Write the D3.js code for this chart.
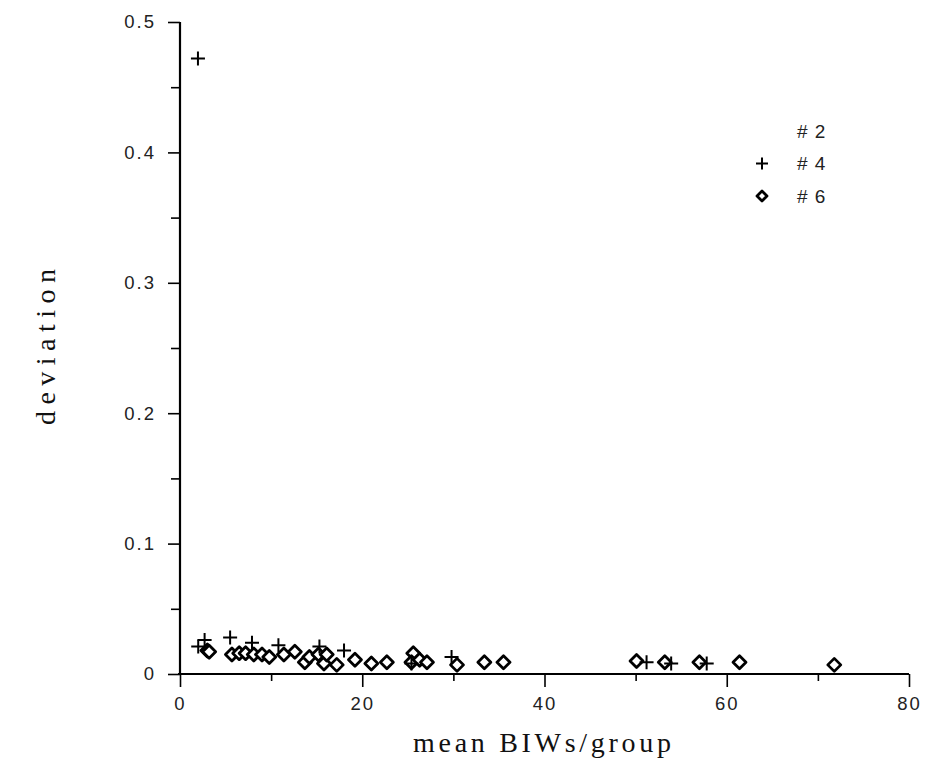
<!DOCTYPE html>
<html>
<head>
<meta charset="utf-8">
<script src="https://cdn.jsdelivr.net/npm/d3@7"></script>
<style>
  html, body { margin: 0; padding: 0; background: #fff; }
  svg { display: block; }
</style>
</head>
<body>
<svg id="chart" width="930" height="784"></svg>
<script>
// ---- data ----
const xTicks = [0, 20, 40, 60, 80];
const xMinorTicks = [10, 30, 50, 70];
const yTicks = [0, 0.1, 0.2, 0.3, 0.4, 0.5];
const yMinorTicks = [0.05, 0.15, 0.25, 0.35, 0.45];
const legendLabels = ["# 2", "# 4", "# 6"];

// series #2 : no visible marks
const s2x = [];
const s2y = [];
// series #4 (plus markers)
const s4x = [1.97, 2.0, 2.7, 5.5, 7.9, 10.8, 15.3, 18.0, 25.4, 29.8, 51.2, 53.9, 57.8];
const s4y = [0.472, 0.021, 0.026, 0.028, 0.024, 0.022, 0.021, 0.018, 0.008, 0.013, 0.009, 0.008, 0.008];
// series #6 (diamond markers)
const s6x = [3.0, 3.2, 5.7, 6.5, 7.2, 8.1, 9.0, 9.8, 11.4, 12.6, 13.7, 14.2, 15.2, 15.8, 16.1, 17.2, 19.2,
             21.0, 22.7, 25.6, 25.4, 26.3, 27.1, 30.4, 33.4, 35.5, 50.1, 53.2, 57.0, 61.4, 71.8];
const s6y = [0.018, 0.017, 0.015, 0.016, 0.016, 0.015, 0.015, 0.013, 0.015, 0.017, 0.009, 0.013, 0.015, 0.008, 0.015, 0.007, 0.011,
             0.008, 0.009, 0.016, 0.009, 0.011, 0.009, 0.007, 0.009, 0.009, 0.010, 0.009, 0.009, 0.009, 0.007];

// ---- drawing ----
const svg = d3.select("#chart");
const x = d3.scaleLinear().domain([0, 80]).range([180, 909]);
const y = d3.scaleLinear().domain([0, 0.5]).range([674, 22]);

const tickFont = "'Liberation Sans', Arial, sans-serif";
const titleFont = "'Liberation Serif', 'Times New Roman', serif";

// y axis
const yAxis = d3.axisLeft(y).tickValues(yTicks).tickSize(12).tickPadding(12)
  .tickFormat(d => d === 0 ? "0" : d3.format(".1f")(d));
const gy = svg.append("g").attr("transform", `translate(${x(0)},0)`).call(yAxis);
gy.select(".domain").remove();
const yMinor = d3.axisLeft(y).tickValues(yMinorTicks).tickSize(9).tickFormat("");
const gym = svg.append("g").attr("transform", `translate(${x(0)},0)`).call(yMinor);
gym.select(".domain").remove();

// x axis
const xAxis = d3.axisBottom(x).tickValues(xTicks).tickSize(13).tickPadding(10).tickFormat(d3.format("d"));
const gx = svg.append("g").attr("transform", `translate(0,${y(0)})`).call(xAxis);
gx.select(".domain").remove();
const xMinor = d3.axisBottom(x).tickValues(xMinorTicks).tickSize(7).tickFormat("");
const gxm = svg.append("g").attr("transform", `translate(0,${y(0)})`).call(xMinor);
gxm.select(".domain").remove();

svg.selectAll(".tick line").attr("stroke", "#000").attr("stroke-width", 1.6);
svg.selectAll(".tick text").attr("font-family", tickFont).attr("font-size", 18.5)
  .attr("fill", "#222").attr("letter-spacing", 2);

// axis lines
svg.append("line").attr("x1", x(0)).attr("x2", x(0)).attr("y1", y(0)).attr("y2", y(0.5))
  .attr("stroke", "#000").attr("stroke-width", 2.2);
svg.append("line").attr("x1", x(0) - 2).attr("x2", x(80)).attr("y1", y(0)).attr("y2", y(0))
  .attr("stroke", "#000").attr("stroke-width", 2.2);

// markers
function plus(g, cx, cy, r) {
  g.append("path").attr("d", `M${cx - r},${cy}H${cx + r}M${cx},${cy - r}V${cy + r}`)
    .attr("stroke", "#000").attr("stroke-width", 2).attr("fill", "none");
}
function diamond(g, cx, cy, r) {
  g.append("path").attr("d", `M${cx},${cy - r}L${cx + r},${cy}L${cx},${cy + r}L${cx - r},${cy}Z`)
    .attr("stroke", "#000").attr("stroke-width", 2.8).attr("stroke-linejoin", "round").attr("fill", "#fff");
}
const marks = svg.append("g");
s6x.forEach((v, i) => diamond(marks, x(v), y(s6y[i]), 6.5));
s4x.forEach((v, i) => plus(marks, x(v), y(s4y[i]), 7));

// legend
const lg = svg.append("g");
legendLabels.forEach((t, i) => {
  const ly = 131 + i * 32.5;
  lg.append("text").attr("x", 797).attr("y", ly).attr("dy", "0.35em")
    .attr("font-family", tickFont).attr("font-size", 19).attr("fill", "#222")
    .attr("letter-spacing", 1).text(t);
  if (i === 1) plus(lg, 762, ly, 6);
  if (i === 2) diamond(lg, 762, ly, 5);
});

// titles
svg.append("text").attr("x", 413).attr("y", 752)
  .attr("font-family", titleFont).attr("font-size", 28).attr("fill", "#111")
  .attr("textLength", 258).attr("lengthAdjust", "spacing").text("mean  BIWs/group");
svg.append("text").attr("transform", "translate(55,425) rotate(-90)")
  .attr("font-family", titleFont).attr("font-size", 28).attr("fill", "#111")
  .attr("textLength", 156).attr("lengthAdjust", "spacing").text("deviation");
</script>
</body>
</html>
